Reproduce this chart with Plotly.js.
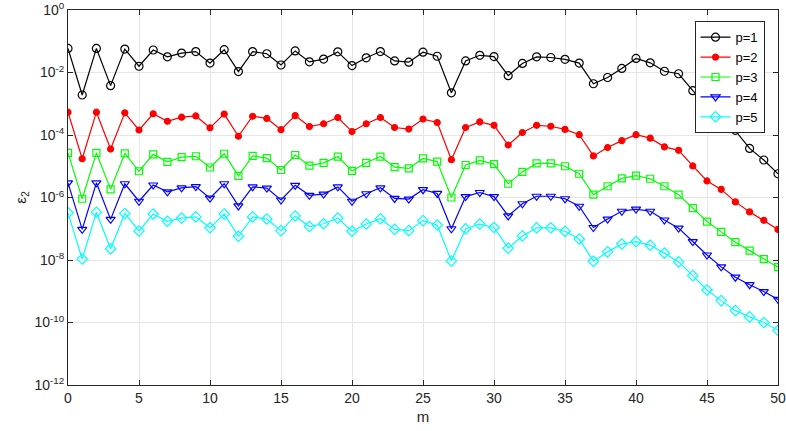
<!DOCTYPE html>
<html>
<head>
<meta charset="utf-8">
<script src="https://cdn.plot.ly/plotly-3.0.1.min.js"></script>
<style>html,body{margin:0;padding:0;background:#fff;}#chart{width:786px;height:431px;}</style>
</head>
<body>
<div id="chart"></div>
<script>
// m values 0..50
const m = [0,1,2,3,4,5,6,7,8,9,10,11,12,13,14,15,16,17,18,19,20,21,22,23,24,25,26,27,28,29,30,31,32,33,34,35,36,37,38,39,40,41,42,43,44,45,46,47,48,49,50];

// log10 of epsilon_2
const logP1 = [-1.23,-2.72,-1.23,-2.42,-1.25,-1.80,-1.28,-1.50,-1.38,-1.33,-1.70,-1.27,-1.97,-1.33,-1.40,-1.76,-1.31,-1.66,-1.57,-1.34,-1.78,-1.53,-1.33,-1.63,-1.67,-1.35,-1.48,-2.65,-1.63,-1.45,-1.49,-2.10,-1.71,-1.50,-1.52,-1.58,-1.70,-2.36,-2.16,-1.87,-1.55,-1.69,-1.96,-2.04,-2.58,-3.08,-3.30,-3.85,-4.43,-4.80,-5.24];
const logP2 = [-3.27,-4.76,-3.27,-4.45,-3.29,-3.84,-3.32,-3.56,-3.43,-3.39,-3.77,-3.33,-4.04,-3.40,-3.47,-3.83,-3.38,-3.73,-3.64,-3.44,-3.89,-3.64,-3.44,-3.76,-3.81,-3.49,-3.60,-4.79,-3.76,-3.58,-3.69,-4.32,-3.92,-3.69,-3.72,-3.82,-3.99,-4.67,-4.40,-4.18,-3.99,-4.10,-4.38,-4.49,-4.99,-5.47,-5.74,-6.14,-6.46,-6.73,-7.02];
const logP3 = [-4.57,-6.04,-4.57,-5.74,-4.59,-5.16,-4.62,-4.86,-4.71,-4.68,-5.04,-4.60,-5.31,-4.67,-4.74,-5.12,-4.64,-4.98,-4.89,-4.69,-5.15,-4.89,-4.69,-5.03,-5.07,-4.75,-4.85,-6.00,-4.96,-4.81,-4.93,-5.56,-5.18,-4.91,-4.91,-5.00,-5.24,-5.91,-5.64,-5.39,-5.30,-5.40,-5.64,-5.91,-6.34,-6.77,-7.10,-7.43,-7.70,-7.97,-8.23];
const logP4 = [-5.53,-7.02,-5.53,-6.70,-5.56,-6.12,-5.60,-5.82,-5.69,-5.65,-6.02,-5.56,-6.27,-5.66,-5.70,-6.08,-5.61,-5.93,-5.89,-5.66,-6.12,-5.88,-5.69,-6.03,-6.05,-5.75,-5.87,-7.00,-5.97,-5.84,-5.97,-6.59,-6.20,-5.96,-5.96,-6.04,-6.28,-6.96,-6.69,-6.44,-6.37,-6.44,-6.72,-6.98,-7.41,-7.84,-8.22,-8.55,-8.79,-9.01,-9.26];
const logP5 = [-6.49,-7.97,-6.47,-7.64,-6.51,-7.07,-6.53,-6.76,-6.66,-6.62,-6.97,-6.53,-7.24,-6.62,-6.69,-7.06,-6.59,-6.93,-6.84,-6.66,-7.08,-6.85,-6.68,-7.02,-7.06,-6.74,-6.88,-8.03,-7.00,-6.85,-6.96,-7.62,-7.23,-6.97,-6.97,-7.08,-7.33,-8.04,-7.74,-7.49,-7.41,-7.53,-7.78,-8.06,-8.50,-8.96,-9.30,-9.62,-9.82,-10.00,-10.25];

const seriesNames = ["p=1","p=2","p=3","p=4","p=5"];
const yTickVals = [1e0,1e-2,1e-4,1e-6,1e-8,1e-10,1e-12];
const yTickText = ["10<sup>0</sup>","10<sup>-2</sup>","10<sup>-4</sup>","10<sup>-6</sup>","10<sup>-8</sup>","10<sup>-10</sup>","10<sup>-12</sup>"];
const xTickVals = [0,5,10,15,20,25,30,35,40,45,50];

const toVal = a => a.map(v => Math.pow(10, v));

const styles = [
  {color:"#000000", symbol:"circle-open", size:8},
  {color:"#ff0000", symbol:"circle", size:6},
  {color:"#00ff00", symbol:"square-open", size:7},
  {color:"#0000ff", symbol:"triangle-down-open", size:8},
  {color:"#00ffff", symbol:"diamond-open", size:8}
];
const data = [logP1,logP2,logP3,logP4,logP5].map((arr,i) => ({
  x: m, y: toVal(arr), type:"scatter", mode:"lines+markers", name: seriesNames[i],
  line:{color:styles[i].color, width:1.2},
  marker:{color:styles[i].color, symbol:styles[i].symbol, size:styles[i].size, line:{color:styles[i].color, width:1.2}}
}));

const font = {family:"Liberation Sans, Arial, sans-serif", size:13, color:"#262626"};
const layout = {
  width:786, height:431,
  margin:{l:68, r:8, t:10, b:46, pad:0},
  paper_bgcolor:"#fff", plot_bgcolor:"#fff",
  font: font,
  showlegend:true,
  legend:{x:0.981, y:0.97, xanchor:"right", yanchor:"top", bgcolor:"#fff", bordercolor:"#262626", borderwidth:1, font:{family:font.family, size:13, color:"#000"}, tracegroupgap:0, itemwidth:30},
  xaxis:{range:[0,50], tickvals:xTickVals, ticks:"inside", ticklen:5, tickcolor:"#262626", showline:true, linecolor:"#262626", linewidth:1, mirror:"ticks", showgrid:true, gridcolor:"#e6e6e6", zeroline:false, ticklabeloverflow:"allow", tickfont:{family:font.family,size:14,color:"#262626"}, title:{text:"m", font:{family:font.family,size:15,color:"#262626"}, standoff:6}},
  yaxis:{type:"log", range:[-12,0], tickvals:yTickVals, ticktext:yTickText, ticks:"inside", ticklen:5, tickcolor:"#262626", showline:true, linecolor:"#262626", linewidth:1, mirror:"ticks", showgrid:true, gridcolor:"#e6e6e6", zeroline:false, ticklabeloverflow:"allow", tickfont:{family:font.family,size:14,color:"#262626"}, title:{text:"ε<sub>2</sub>", font:{family:font.family,size:15,color:"#262626"}, standoff:4}}
};
Plotly.newPlot("chart", data, layout, {displayModeBar:false, staticPlot:true});
</script>
</body>
</html>
